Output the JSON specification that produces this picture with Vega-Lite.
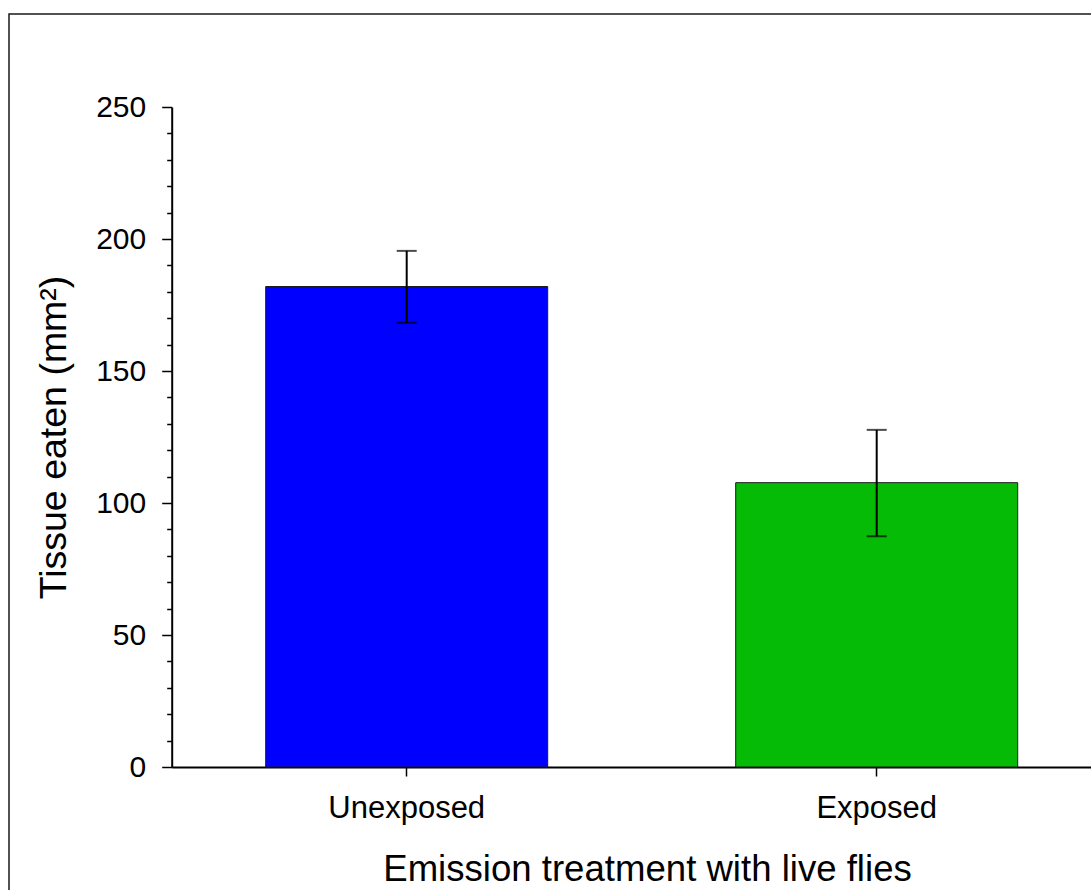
{
  "$schema": "https://vega.github.io/schema/vega-lite/v6.json",
  "width": 1100,
  "height": 900,
  "autosize": {"type": "none"},
  "padding": {"left": 9, "top": 14, "right": -18, "bottom": -24},
  "background": "white",
  "config": {
    "view": {"stroke": "#1a1a1a", "strokeWidth": 1.5},
    "font": "Liberation Sans"
  },
  "data": {
    "values": [
      {"treatment": "Unexposed", "mean": 182, "lo": 168.3, "hi": 195.5},
      {"treatment": "Exposed", "mean": 107.7, "lo": 87.4, "hi": 127.7}
    ]
  },
  "encoding": {
    "x": {
      "field": "treatment",
      "type": "nominal",
      "sort": ["Unexposed", "Exposed"],
      "scale": {"range": [162.7, 1102.7], "paddingInner": 0.4, "paddingOuter": 0.2},
      "axis": {
        "orient": "bottom",
        "offset": -147,
        "title": "Emission treatment with live flies",
        "titleX": 638,
        "tickSize": 9,
        "tickWidth": 1.5,
        "tickColor": "black",
        "domainWidth": 2,
        "domainColor": "black",
        "labelAngle": 0,
        "labelFontSize": 31,
        "labelColor": "black",
        "labelPadding": 17,
        "titleFontSize": 36.6,
        "titleFontWeight": "normal",
        "titleColor": "black",
        "titlePadding": 28
      }
    }
  },
  "layer": [
    {
      "mark": {"type": "bar", "stroke": "#1a1a1a", "strokeWidth": 1},
      "encoding": {
        "y": {
          "field": "mean",
          "type": "quantitative",
          "scale": {"domain": [0, 250], "range": [753, 93], "nice": false, "zero": true},
          "axis": {
            "orient": "left",
            "offset": -162.7,
            "values": [0, 50, 100, 150, 200, 250],
            "tickSize": 10,
            "tickWidth": 1.5,
            "tickColor": "black",
            "domainColor": "black",
            "domainWidth": 2,
            "labelFontSize": 30,
            "labelColor": "black",
            "labelPadding": 16,
            "grid": false,
            "title": "Tissue eaten (mm²)",
            "titleFontSize": 37.5,
            "titleFontWeight": "normal",
            "titleColor": "black",
            "titlePadding": 22
          }
        },
        "color": {
          "field": "treatment",
          "type": "nominal",
          "scale": {"domain": ["Unexposed", "Exposed"], "range": ["#0000FF", "#05BB05"]},
          "legend": null
        }
      }
    },
    {
      "mark": {"type": "rule", "color": "black", "strokeWidth": 2},
      "encoding": {
        "y": {
          "field": "lo",
          "type": "quantitative",
          "scale": {"domain": [0, 250], "range": [753, 93], "nice": false, "zero": true},
          "axis": {
            "orient": "left",
            "offset": -162.7,
            "values": [10, 20, 30, 40, 60, 70, 80, 90, 110, 120, 130, 140, 160, 170, 180, 190, 210, 220, 230, 240],
            "tickSize": 5,
            "tickWidth": 1.5,
            "tickColor": "black",
            "labels": false,
            "domain": false,
            "grid": false,
            "title": null
          }
        },
        "y2": {"field": "hi"}
      }
    },
    {
      "mark": {"type": "tick", "color": "black", "thickness": 2, "size": 20},
      "encoding": {"y": {"field": "lo", "type": "quantitative", "scale": {"domain": [0, 250], "range": [753, 93], "nice": false, "zero": true}, "axis": null}}
    },
    {
      "mark": {"type": "tick", "color": "black", "thickness": 2, "size": 20},
      "encoding": {"y": {"field": "hi", "type": "quantitative", "scale": {"domain": [0, 250], "range": [753, 93], "nice": false, "zero": true}, "axis": null}}
    }
  ],
  "resolve": {"axis": {"y": "independent"}}
}
